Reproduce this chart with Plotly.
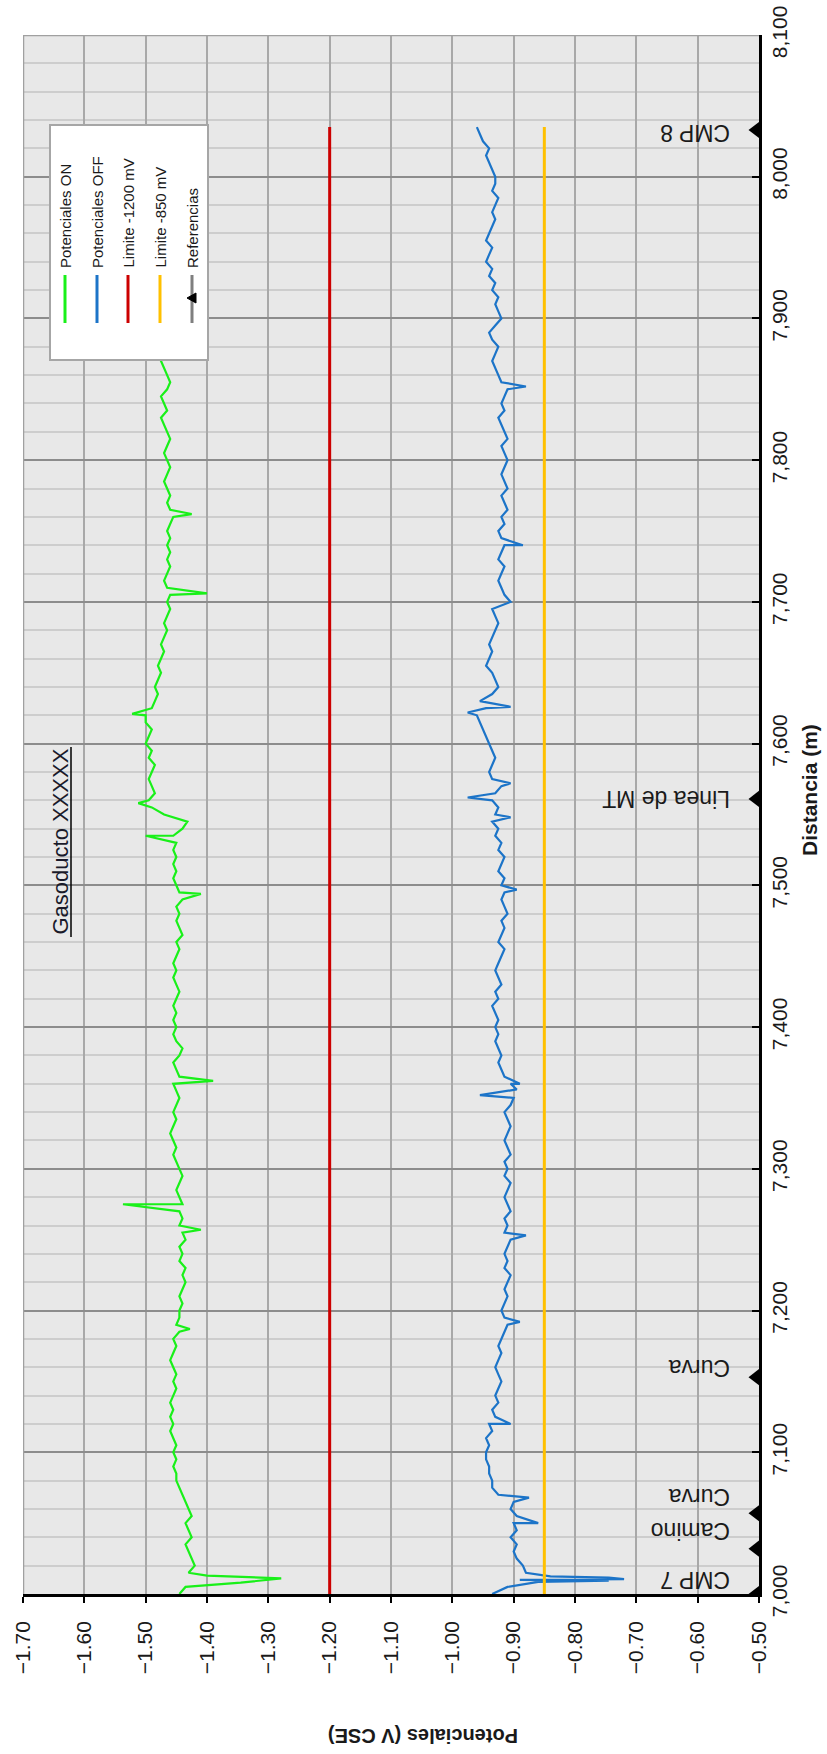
import plotly.graph_objects as go

# ---------------- data ----------------
# sampling grid of the survey (m)
dist = list(range(7000, 8040, 5))

# Potenciales ON (V CSE), one value per 5 m
pot_on = [
    # 7000-7095
    -1.445, -1.435, -1.300, -1.430, -1.420, -1.425, -1.430, -1.435, -1.425, -1.430,
    -1.435, -1.425, -1.430, -1.435, -1.440, -1.445, -1.450, -1.450, -1.455, -1.450,
    # 7100-7195
    -1.455, -1.450, -1.455, -1.460, -1.455, -1.460, -1.455, -1.460, -1.455, -1.450,
    -1.455, -1.450, -1.455, -1.460, -1.455, -1.450, -1.455, -1.445, -1.450, -1.445,
    # 7200-7295
    -1.445, -1.440, -1.445, -1.440, -1.435, -1.440, -1.435, -1.445, -1.440, -1.445,
    -1.435, -1.440, -1.445, -1.440, -1.445, -1.440, -1.445, -1.450, -1.445, -1.440,
    # 7300-7395
    -1.445, -1.450, -1.455, -1.450, -1.455, -1.460, -1.455, -1.450, -1.455, -1.450,
    -1.445, -1.450, -1.455, -1.445, -1.450, -1.455, -1.445, -1.440, -1.450, -1.455,
    # 7400-7495
    -1.450, -1.455, -1.450, -1.455, -1.450, -1.445, -1.450, -1.455, -1.450, -1.455,
    -1.450, -1.445, -1.450, -1.440, -1.445, -1.450, -1.445, -1.450, -1.440, -1.445,
    # 7500-7595
    -1.450, -1.455, -1.450, -1.455, -1.450, -1.455, -1.450, -1.455, -1.440, -1.432,
    -1.470, -1.490, -1.495, -1.485, -1.490, -1.495, -1.490, -1.485, -1.495, -1.490,
    # 7600-7695
    -1.500, -1.495, -1.490, -1.500, -1.500, -1.490, -1.485, -1.480, -1.485, -1.480,
    -1.475, -1.480, -1.475, -1.470, -1.475, -1.470, -1.465, -1.470, -1.465, -1.460,
    # 7700-7795
    -1.465, -1.460, -1.465, -1.470, -1.465, -1.460, -1.465, -1.460, -1.465, -1.460,
    -1.465, -1.460, -1.455, -1.460, -1.465, -1.460, -1.465, -1.470, -1.465, -1.460,
    # 7800-7895
    -1.465, -1.470, -1.465, -1.460, -1.465, -1.470, -1.475, -1.465, -1.470, -1.475,
    -1.465, -1.460, -1.465, -1.470, -1.475, -1.470, -1.465, -1.470, -1.475, -1.470,
    # 7900-7995
    -1.470, -1.475, -1.470, -1.465, -1.470, -1.475, -1.470, -1.465, -1.470, -1.475,
    -1.470, -1.465, -1.470, -1.475, -1.470, -1.465, -1.470, -1.475, -1.470, -1.465,
    # 8000-8035
    -1.470, -1.475, -1.470, -1.465, -1.470, -1.475, -1.470, -1.470,
]

# isolated readings (spikes) of the ON survey
on_spike_dist = [7008, 7011, 7013, 7187, 7257, 7275, 7362, 7494, 7535, 7558, 7621, 7706, 7762]
on_spike_val = [-1.345, -1.279, -1.400, -1.428, -1.410, -1.537, -1.390, -1.410, -1.500, -1.512, -1.522, -1.400, -1.425]

# Potenciales OFF (V CSE), one value per 5 m
pot_off = [
    # 7000-7095
    -0.935, -0.910, -0.890, -0.880, -0.885, -0.895, -0.900, -0.895, -0.905, -0.895,
    -0.900, -0.895, -0.905, -0.900, -0.925, -0.935, -0.935, -0.940, -0.940, -0.945,
    # 7100-7195
    -0.945, -0.940, -0.945, -0.935, -0.940, -0.930, -0.935, -0.925, -0.930, -0.925,
    -0.920, -0.925, -0.930, -0.925, -0.920, -0.925, -0.920, -0.915, -0.910, -0.915,
    # 7200-7295
    -0.920, -0.915, -0.910, -0.915, -0.910, -0.905, -0.915, -0.910, -0.915, -0.910,
    -0.905, -0.915, -0.910, -0.915, -0.905, -0.910, -0.915, -0.910, -0.905, -0.915,
    # 7300-7395
    -0.910, -0.915, -0.905, -0.910, -0.915, -0.910, -0.905, -0.910, -0.915, -0.905,
    -0.900, -0.910, -0.905, -0.915, -0.920, -0.925, -0.920, -0.925, -0.930, -0.925,
    # 7400-7495
    -0.930, -0.925, -0.930, -0.935, -0.925, -0.930, -0.920, -0.925, -0.930, -0.925,
    -0.920, -0.915, -0.925, -0.920, -0.915, -0.920, -0.910, -0.915, -0.920, -0.915,
    # 7500-7595
    -0.920, -0.915, -0.925, -0.920, -0.915, -0.925, -0.920, -0.930, -0.925, -0.935,
    -0.930, -0.925, -0.935, -0.930, -0.920, -0.935, -0.940, -0.935, -0.930, -0.935,
    # 7600-7695
    -0.940, -0.945, -0.950, -0.955, -0.960, -0.945, -0.955, -0.935, -0.925, -0.930,
    -0.935, -0.945, -0.940, -0.935, -0.940, -0.935, -0.930, -0.925, -0.930, -0.935,
    # 7700-7795
    -0.905, -0.915, -0.920, -0.925, -0.920, -0.915, -0.925, -0.920, -0.915, -0.920,
    -0.925, -0.915, -0.920, -0.910, -0.915, -0.920, -0.910, -0.915, -0.920, -0.915,
    # 7800-7895
    -0.910, -0.915, -0.920, -0.910, -0.915, -0.920, -0.925, -0.915, -0.920, -0.915,
    -0.910, -0.920, -0.925, -0.930, -0.935, -0.930, -0.925, -0.935, -0.940, -0.930,
    # 7900-7995
    -0.920, -0.925, -0.930, -0.925, -0.935, -0.930, -0.940, -0.935, -0.945, -0.940,
    -0.935, -0.945, -0.940, -0.935, -0.930, -0.935, -0.930, -0.925, -0.935, -0.930,
    # 8000-8035
    -0.930, -0.935, -0.940, -0.945, -0.940, -0.950, -0.955, -0.960,
]

# isolated readings (spikes) of the OFF survey
off_spike_dist = [7008.5, 7009.5, 7010.5, 7011.5, 7012.5, 7050, 7068, 7120, 7192, 7253,
                  7352, 7356, 7360, 7497, 7548, 7562, 7572, 7622, 7626, 7740, 7852]
off_spike_val = [-0.860, -0.745, -0.720, -0.745, -0.840, -0.860, -0.875, -0.905, -0.890, -0.880,
                 -0.955, -0.895, -0.890, -0.895, -0.905, -0.975, -0.905, -0.975, -0.905, -0.885, -0.880]

# limits (V) and their extent (m)
lim_1200 = -1.20
lim_850 = -0.85
lim_dist = [7000, 8035]

# references along the pipeline
ref_names = ["CMP 7", "Camino", "Curva", "Curva", "Linea de MT", "CMP 8"]
ref_dist = [7000, 7032, 7057, 7153, 7561, 8033]

x_ticks = [-1.70, -1.60, -1.50, -1.40, -1.30, -1.20, -1.10, -1.00, -0.90, -0.80, -0.70, -0.60, -0.50]
y_ticks = [7000, 7100, 7200, 7300, 7400, 7500, 7600, 7700, 7800, 7900, 8000, 8100]


def merge(base_d, base_v, sp_d, sp_v):
    pts = sorted(list(zip(base_d, base_v)) + list(zip(sp_d, sp_v)))
    return [p[0] for p in pts], [p[1] for p in pts]


on_d, on_v = merge(dist, pot_on, on_spike_dist, on_spike_val)
off_d, off_v = merge(dist, pot_off, off_spike_dist, off_spike_val)

# ---------------- geometry helpers (layout) ----------------
W, H = 827, 1754
L, R, T, B = 23, 759, 35, 1594
XMIN, XMAX = -1.70, -0.50
YMIN, YMAX = 7000, 8100


def px_x(px):
    return XMIN + (px - L) / (R - L) * (XMAX - XMIN)


def px_y(py):
    return YMAX - (py - T) / (B - T) * (YMAX - YMIN)


GREEN = "#19f019"
BLUE = "#1c74c8"
RED = "#cc0000"
YELLOW = "#ffc000"
FONT = "Liberation Sans"
TXT = "#1a1a1a"

fig = go.Figure()

fig.add_trace(go.Scatter(x=on_v, y=on_d, mode="lines", line=dict(color=GREEN, width=2.2),
                         name="Potenciales ON", showlegend=False))
fig.add_trace(go.Scatter(x=off_v, y=off_d, mode="lines", line=dict(color=BLUE, width=2.2),
                         name="Potenciales OFF", showlegend=False))
fig.add_trace(go.Scatter(x=[lim_1200, lim_1200], y=lim_dist, mode="lines",
                         line=dict(color=RED, width=3), name="Limite -1200 mV", showlegend=False))
fig.add_trace(go.Scatter(x=[lim_850, lim_850], y=lim_dist, mode="lines",
                         line=dict(color=YELLOW, width=3), name="Limite -850 mV", showlegend=False))
fig.add_trace(go.Scatter(x=[XMAX] * len(ref_dist), y=ref_dist, mode="markers",
                         marker=dict(symbol="triangle-left", size=21, color="black"),
                         cliponaxis=True, name="Referencias", showlegend=False))

shapes = []
# top and left borders (gray)
shapes.append(dict(type="line", xref="x", yref="y", x0=XMIN, x1=XMAX, y0=YMAX, y1=YMAX,
                   line=dict(color="#a0a0a0", width=2.5), layer="above"))
shapes.append(dict(type="line", xref="x", yref="y", x0=XMIN, x1=XMIN, y0=YMIN, y1=YMAX,
                   line=dict(color="#a0a0a0", width=2.5), layer="above"))

# legend box
shapes.append(dict(type="rect", xref="x", yref="y", x0=px_x(50), x1=px_x(208), y0=px_y(360), y1=px_y(125),
                   fillcolor="white", line=dict(color="#a6a6a6", width=2), layer="above"))
leg_cols = [65, 97, 128, 160, 192]
leg_colors = [GREEN, BLUE, RED, YELLOW, "#7f7f7f"]
leg_names = ["Potenciales ON", "Potenciales OFF", "Limite -1200 mV", "Limite -850 mV", "Referencias"]
for cx, col in zip(leg_cols, leg_colors):
    shapes.append(dict(type="line", xref="x", yref="y", x0=px_x(cx), x1=px_x(cx), y0=px_y(323), y1=px_y(275),
                       line=dict(color=col, width=3), layer="above"))
# marker sample for Referencias
cx, cy = 192, 298
path = "M {},{} L {},{} L {},{} Z".format(px_x(cx - 5), px_y(cy), px_x(cx + 4), px_y(cy - 5),
                                           px_x(cx + 4), px_y(cy + 5))
shapes.append(dict(type="path", xref="x", yref="y", path=path, fillcolor="black",
                   line=dict(color="black", width=1), layer="above"))

# underline of the title
shapes.append(dict(type="line", xref="x", yref="y", x0=px_x(71), x1=px_x(71), y0=px_y(937), y1=px_y(747),
                   line=dict(color="black", width=1.5), layer="above"))

annotations = []
for cx, name in zip(leg_cols, leg_names):
    annotations.append(dict(x=px_x(cx), y=px_y(270), xref="x", yref="y", text=name, showarrow=False,
                            textangle=-90, xanchor="center", yanchor="bottom",
                            font=dict(family=FONT, size=15, color=TXT)))

# reference labels (upside down)
label_shift_m = [10, 12, 11, 6, 0, -2]
for name, d, sh in zip(ref_names, ref_dist, label_shift_m):
    annotations.append(dict(x=XMAX, y=d + sh, xref="x", yref="y", text=name, showarrow=False,
                            textangle=180, xanchor="right", yanchor="middle", xshift=-27,
                            font=dict(family=FONT, size=23, color=TXT)))

# chart title
annotations.append(dict(x=px_x(59.5), y=px_y(842), xref="x", yref="y", text="Gasoducto XXXXX",
                        showarrow=False, textangle=-90, xanchor="center", yanchor="middle",
                        font=dict(family=FONT, size=22, color="#1a1a2a")))

# axis titles
annotations.append(dict(x=(423 - L) / (R - L), y=(B - 1736) / (B - T), xref="paper", yref="paper",
                        text="<b>Potenciales (V CSE)</b>", showarrow=False, textangle=180,
                        xanchor="center", yanchor="middle", font=dict(family=FONT, size=20, color=TXT)))
annotations.append(dict(x=(809 - L) / (R - L), y=(B - 790) / (B - T), xref="paper", yref="paper",
                        text="<b>Distancia (m)</b>", showarrow=False, textangle=-90,
                        xanchor="center", yanchor="middle", font=dict(family=FONT, size=21, color=TXT)))

fig.update_layout(
    width=W, height=H,
    margin=dict(l=L, r=W - R, t=T, b=H - B, pad=0),
    paper_bgcolor="white", plot_bgcolor="#e8e8e8",
    showlegend=False,
    shapes=shapes, annotations=annotations,
    xaxis=dict(range=[XMIN, XMAX], tickvals=x_ticks, tickformat=".2f", tickangle=-90,
               showgrid=True, gridcolor="#a8a8a8", gridwidth=1.5,
               showline=True, linecolor="black", linewidth=2.5,
               ticks="outside", ticklen=6, tickcolor="black", tickwidth=1.5,
               ticklabelstandoff=10,
               tickfont=dict(family=FONT, size=21, color=TXT), zeroline=False, automargin=False),
    yaxis=dict(range=[YMIN, YMAX], tickvals=y_ticks, tickformat=",d", tickangle=-90, side="right",
               showgrid=True, gridcolor="#8c8c8c", gridwidth=1.5,
               minor=dict(dtick=20, showgrid=True, gridcolor="#cdcdcd", gridwidth=2),
               showline=True, linecolor="black", linewidth=2.5,
               ticks="inside", ticklen=7, tickcolor="black", tickwidth=1.5,
               tickfont=dict(family=FONT, size=21, color=TXT), zeroline=False, automargin=False),
)

fig.write_html("out.html", config={"displayModeBar": False},
               post_script="document.body.style.margin='0px';document.body.style.overflow='hidden';")
